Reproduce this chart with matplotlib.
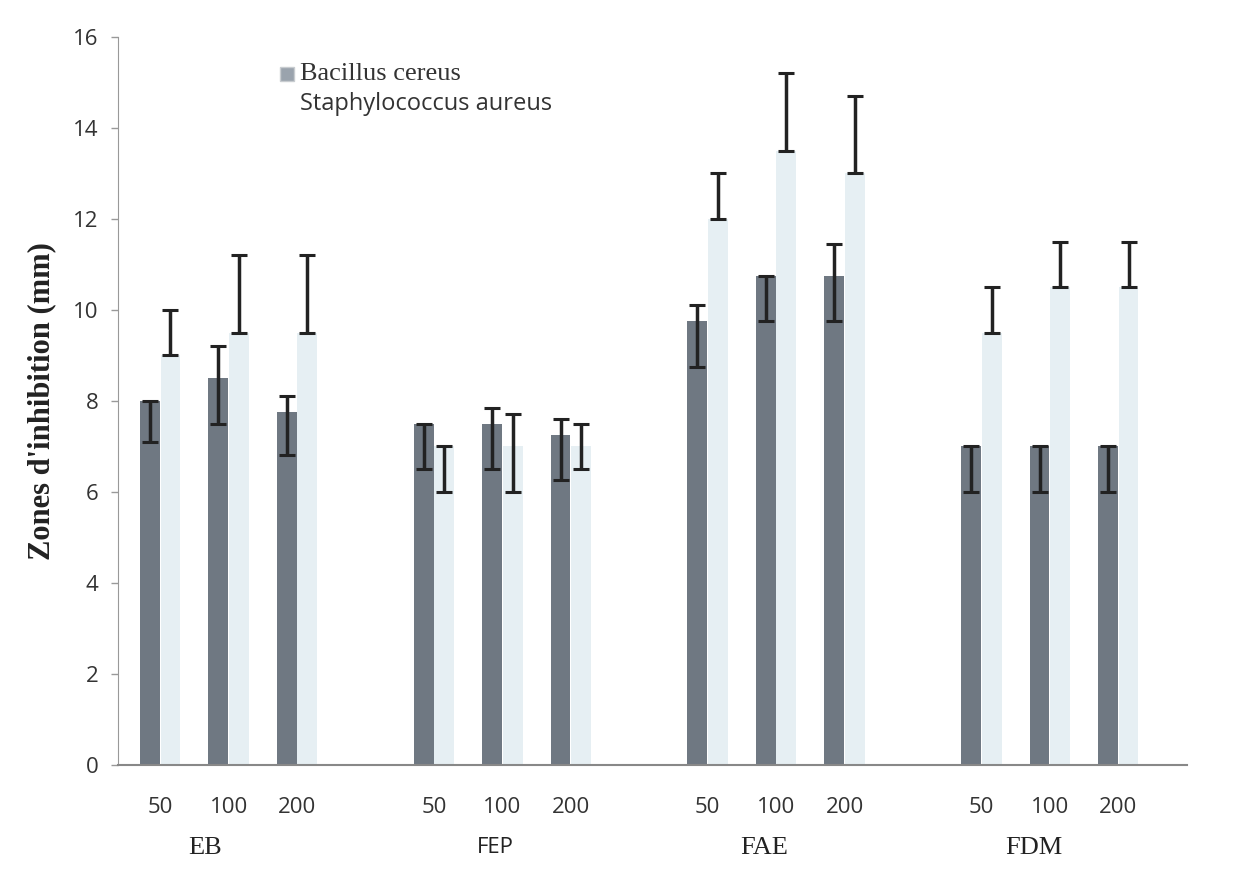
import numpy as np
import matplotlib.pyplot as plt
from matplotlib.patches import Rectangle

# === Données ===
groups = ['EB', 'FEP', 'FAE', 'FDM']
concs = ['50', '100', '200']

# Bacillus cereus
bc_mean = [8.0, 8.5, 7.75, 7.5, 7.5, 7.25, 9.75, 10.75, 10.75, 7.0, 7.0, 7.0]
bc_low = [7.1, 7.5, 6.8, 6.5, 6.5, 6.25, 8.75, 9.75, 9.75, 6.0, 6.0, 6.0]
bc_high = [8.0, 9.2, 8.1, 7.5, 7.85, 7.6, 10.1, 10.75, 11.45, 7.0, 7.0, 7.0]

# Staphylococcus aureus
sa_mean = [9.0, 9.5, 9.5, 7.0, 7.0, 7.0, 12.0, 13.5, 13.0, 9.5, 10.5, 10.5]
sa_low = [9.0, 9.5, 9.5, 6.0, 6.0, 6.5, 12.0, 13.5, 13.0, 9.5, 10.5, 10.5]
sa_high = [10.0, 11.2, 11.2, 7.0, 7.7, 7.5, 13.0, 15.2, 14.7, 10.5, 11.5, 11.5]

# positions: 3 concentrations par groupe, une case vide entre groupes
x = np.array([g * 4 + i for g in range(len(groups)) for i in range(len(concs))], dtype=float)
w = 0.29

dark = '#6f7882'
light = '#e6eff3'

fig = plt.figure(figsize=(12.4, 8.81), dpi=100)
ax = fig.add_axes([0.095, 0.132, 0.862, 0.826])

ax.bar(x - 0.15, bc_mean, w, color=dark, zorder=2)
ax.bar(x + 0.15, sa_mean, w, color=light, zorder=1)

bc_err = [np.array(bc_mean) - np.array(bc_low), np.array(bc_high) - np.array(bc_mean)]
sa_err = [np.array(sa_mean) - np.array(sa_low), np.array(sa_high) - np.array(sa_mean)]
ax.errorbar(x - 0.15, bc_mean, yerr=bc_err, fmt='none', ecolor='#222222',
            elinewidth=2.5, capsize=6, capthick=2.2, zorder=3)
ax.errorbar(x + 0.15, sa_mean, yerr=sa_err, fmt='none', ecolor='#222222',
            elinewidth=2.5, capsize=6, capthick=2.2, zorder=3)

ax.set_ylim(0, 16)
ax.set_xlim(-0.62, 15.0)
ax.set_yticks(range(0, 17, 2))
ax.tick_params(axis='y', labelsize=16, labelcolor='#333333', color='#999999',
               length=5, width=1, direction='out', pad=9)
for lab in ax.get_yticklabels():
    lab.set_fontfamily('Open Sans')

ax.set_xticks(x)
ax.set_xticklabels(concs * len(groups), fontsize=16, fontfamily='Open Sans', color='#333333')
ax.tick_params(axis='x', length=0, pad=23)

# étiquettes des groupes
label_shift = [-0.34, -0.11, -0.17, -0.23]
for g, name in enumerate(groups):
    sans = name == 'FEP'
    ax.text(g * 4 + 1 + label_shift[g], -1.83, name, ha='center', va='center',
            fontsize=16 if sans else 19,
            fontfamily='Open Sans' if sans else 'Liberation Serif', color='#222222')

for side in ['top', 'right']:
    ax.spines[side].set_visible(False)
ax.spines['left'].set_color('#999999')
ax.spines['bottom'].set_color('#888888')
ax.spines['bottom'].set_linewidth(1.5)

ax.set_ylabel("Zones d'inhibition (mm)", fontsize=22, fontweight='bold',
              fontfamily='Liberation Serif', color='#222222', labelpad=12)

# légende (polices différentes pour chaque entrée)
ax.add_patch(Rectangle((0.152, 0.940), 0.013, 0.019, transform=ax.transAxes,
                       facecolor='#9aa3ad', edgecolor='#c8ccd0', clip_on=False))
ax.text(0.17, 0.949, 'Bacillus cereus', transform=ax.transAxes, va='center',
        fontsize=19, fontfamily='Liberation Serif', color='#333333')
ax.text(0.17, 0.908, 'Staphylococcus aureus', transform=ax.transAxes, va='center',
        fontsize=17, fontfamily='Open Sans', color='#333333')

fig.savefig('out.png', dpi=100)
